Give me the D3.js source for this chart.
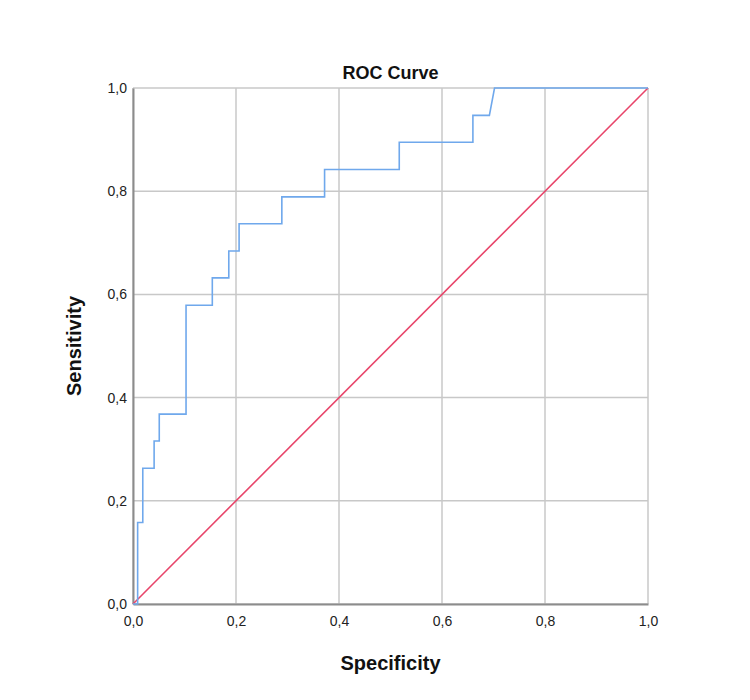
<!DOCTYPE html>
<html>
<head>
<meta charset="utf-8">
<script src="https://cdn.jsdelivr.net/npm/d3@7"></script>
<style>
  body { margin: 0; background: #fff; }
  text { font-family: "Liberation Sans", Arial, sans-serif; }
</style>
</head>
<body>
<svg id="chart" width="750" height="700"></svg>
<script>
// ROC step curve (x = "Specificity" axis, y = sensitivity)
const rocX = [0, 0.009, 0.009, 0.019, 0.019, 0.041, 0.041, 0.051, 0.051, 0.103, 0.103, 0.154, 0.154, 0.186, 0.186, 0.206, 0.206, 0.289, 0.289, 0.372, 0.372, 0.517, 0.517, 0.660, 0.660, 0.692, 0.702, 1.0];
const rocY = [0, 0, 0.158, 0.158, 0.263, 0.263, 0.316, 0.316, 0.368, 0.368, 0.579, 0.579, 0.632, 0.632, 0.684, 0.684, 0.737, 0.737, 0.789, 0.789, 0.842, 0.842, 0.895, 0.895, 0.947, 0.947, 1.0, 1.0];
const refX = [0, 1];
const refY = [0, 1];
const ticks = [0, 0.2, 0.4, 0.6, 0.8, 1.0];

const margin = { top: 88, left: 133, right: 102, bottom: 96 };
const width = 750, height = 700;
const innerW = width - margin.left - margin.right;
const innerH = height - margin.top - margin.bottom;

const svg = d3.select("#chart");
const g = svg.append("g").attr("transform", `translate(${margin.left},${margin.top})`);

const x = d3.scaleLinear().domain([0, 1]).range([0, innerW]);
const y = d3.scaleLinear().domain([0, 1]).range([innerH, 0]);
const fmt = d => d3.format(".1f")(d).replace(".", ",");

// grid
g.append("g").selectAll("line").data(ticks).join("line")
  .attr("x1", d => x(d)).attr("x2", d => x(d))
  .attr("y1", 0).attr("y2", innerH)
  .attr("stroke", "#c8c8c8").attr("stroke-width", 1.5);
g.append("g").selectAll("line").data(ticks).join("line")
  .attr("y1", d => y(d)).attr("y2", d => y(d))
  .attr("x1", 0).attr("x2", innerW)
  .attr("stroke", "#c8c8c8").attr("stroke-width", 1.5);

// axes
const xAxis = g.append("g").attr("transform", `translate(0,${innerH})`)
  .call(d3.axisBottom(x).tickValues(ticks).tickFormat(fmt).tickSize(0).tickPadding(12));
const yAxis = g.append("g")
  .call(d3.axisLeft(y).tickValues(ticks).tickFormat(fmt).tickSize(0).tickPadding(6));
[xAxis, yAxis].forEach(a => {
  a.select(".domain").attr("stroke", "#8c8c8c").attr("stroke-width", 2);
  a.selectAll("text").attr("font-size", 14).attr("fill", "#222")
    .style("font-family", "'Liberation Sans', Arial, sans-serif");
});

// reference diagonal
g.append("path")
  .datum(refX.map((v, i) => [v, refY[i]]))
  .attr("d", d3.line().x(d => x(d[0])).y(d => y(d[1])))
  .attr("fill", "none").attr("stroke", "#e8456a").attr("stroke-width", 1.6);

// ROC curve
g.append("path")
  .datum(rocX.map((v, i) => [v, rocY[i]]))
  .attr("d", d3.line().x(d => x(d[0])).y(d => y(d[1])))
  .attr("fill", "none").attr("stroke", "#6fa8ec").attr("stroke-width", 1.6);

// titles
svg.append("text").attr("x", margin.left + innerW / 2).attr("y", 79)
  .attr("text-anchor", "middle").attr("font-size", 18).attr("font-weight", "bold")
  .attr("fill", "#111").text("ROC Curve");
svg.append("text").attr("x", margin.left + innerW / 2).attr("y", 670)
  .attr("text-anchor", "middle").attr("font-size", 20).attr("font-weight", "bold")
  .attr("fill", "#111").text("Specificity");
svg.append("text")
  .attr("transform", `translate(81,${margin.top + innerH / 2}) rotate(-90)`)
  .attr("text-anchor", "middle").attr("font-size", 20).attr("font-weight", "bold")
  .attr("fill", "#111").text("Sensitivity");
</script>
</body>
</html>
